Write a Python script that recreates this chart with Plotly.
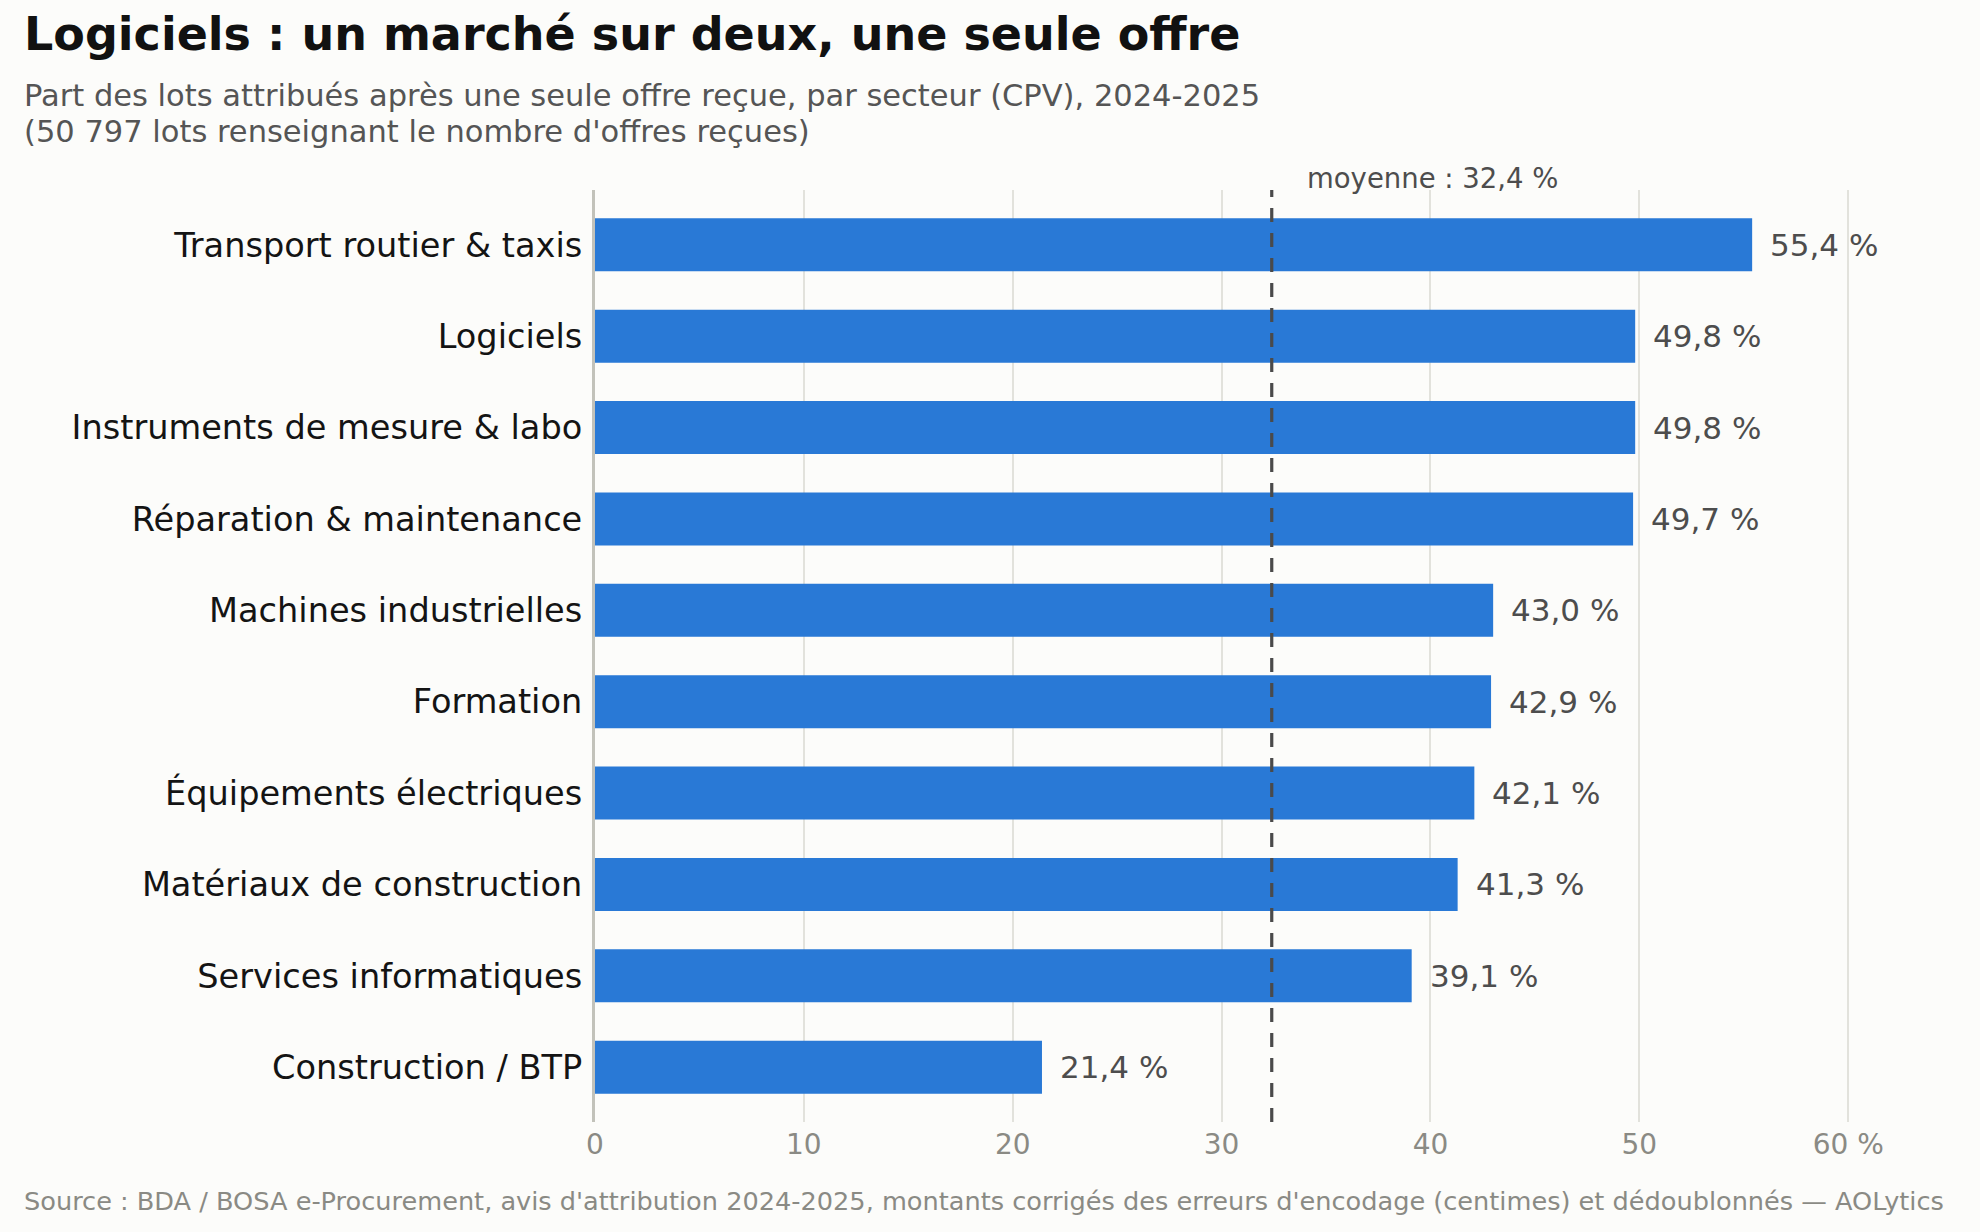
import plotly.graph_objects as go

categories = [
    "Transport routier & taxis",
    "Logiciels",
    "Instruments de mesure & labo",
    "Réparation & maintenance",
    "Machines industrielles",
    "Formation",
    "Équipements électriques",
    "Matériaux de construction",
    "Services informatiques",
    "Construction / BTP",
]
values = [55.4, 49.8, 49.8, 49.7, 43.0, 42.9, 42.1, 41.3, 39.1, 21.4]
mean_value = 32.4
x_ticks = [0, 10, 20, 30, 40, 50, 60]
x_tick_labels = ["0", "10", "20", "30", "40", "50", "60 %"]

title = "Logiciels : un marché sur deux, une seule offre"
subtitle_lines = [
    "Part des lots attribués après une seule offre reçue, par secteur (CPV), 2024-2025",
    "(50 797 lots renseignant le nombre d'offres reçues)",
]
source = ("Source : BDA / BOSA e-Procurement, avis d'attribution 2024-2025, montants corrigés "
          "des erreurs d'encodage (centimes) et dédoublonnés — AOLytics")

def fr(v):
    return f"{v:.1f}".replace(".", ",") + " %"

W, H = 1980, 1232
FONT = "DejaVu Sans"
BG = "#fcfcfa"

fig = go.Figure()
fig.add_trace(go.Bar(
    x=values,
    y=categories,
    orientation="h",
    marker=dict(color="#2979d6", line=dict(width=0)),
    width=0.58,
    hoverinfo="skip",
))

# value labels
for c, v in zip(categories, values):
    fig.add_annotation(
        x=v, y=c, xref="x", yref="y",
        text=fr(v), showarrow=False,
        xanchor="left", yanchor="middle", xshift=16,
        font=dict(family=FONT, size=31, color="#4d4d4d"),
    )

x0_px, x1_px = 595, 1890
y_top_px, y_bot_px = 190, 1122

fig.update_layout(
    width=W, height=H,
    margin=dict(l=0, r=0, t=0, b=0, autoexpand=False),
    paper_bgcolor=BG, plot_bgcolor=BG,
    showlegend=False,
    font=dict(family=FONT),
    xaxis=dict(
        domain=[x0_px / W, x1_px / W],
        range=[0, 62],
        tickvals=x_ticks,
        ticktext=x_tick_labels,
        tickfont=dict(family=FONT, size=28, color="#8a8a84"),
        showgrid=True, gridcolor="#e2e2dc", gridwidth=2,
        zeroline=False, showline=False, ticks="",
        ticklabelstandoff=3, automargin=False,
    ),
    yaxis=dict(
        domain=[(H - y_bot_px) / H, (H - y_top_px) / H],
        categoryorder="array", categoryarray=categories,
        range=[9.6, -0.6],
        tickfont=dict(family=FONT, size=33.6, color="#141414"),
        showgrid=False, zeroline=False,
        showline=True, linecolor="#c2c2ba", linewidth=3,
        ticks="", ticklabelstandoff=3, automargin=False,
    ),
)

# mean line
fig.add_shape(
    type="line", xref="x", yref="paper",
    x0=mean_value, x1=mean_value,
    y0=(H - y_bot_px) / H, y1=(H - y_top_px) / H,
    line=dict(color="#4a4a4a", width=3.2, dash="14px,11px"),
    layer="above",
)
fig.add_annotation(
    x=mean_value, xref="x", y=(H - 178) / H, yref="paper",
    text="moyenne : " + fr(mean_value),
    showarrow=False, xanchor="left", yanchor="middle", xshift=33,
    font=dict(family=FONT, size=27.5, color="#4d4d4d"),
)

# title / subtitle / source
TX = 22 / W
fig.add_annotation(
    x=TX, y=(H - 34) / H, xref="paper", yref="paper",
    text="<b>" + title + "</b>", showarrow=False,
    xanchor="left", yanchor="middle",
    font=dict(family=FONT, size=46, color="#111111"),
)
for i, line in enumerate(subtitle_lines):
    fig.add_annotation(
        x=TX, y=(H - (95 + 37 * i)) / H, xref="paper", yref="paper",
        text=line, showarrow=False, xanchor="left", yanchor="middle",
        font=dict(family=FONT, size=30.5, color="#555555"),
    )
fig.add_annotation(
    x=TX, y=(H - 1201) / H, xref="paper", yref="paper",
    text=source, showarrow=False, xanchor="left", yanchor="middle",
    font=dict(family=FONT, size=25.6, color="#8a8a84"),
)

fig.write_html("out.html")
